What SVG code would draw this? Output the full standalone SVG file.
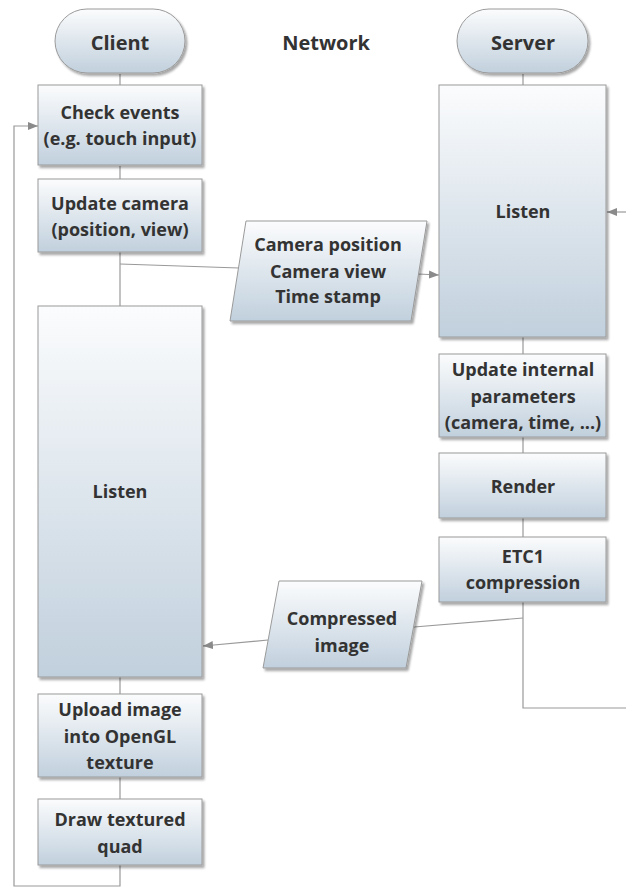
<svg xmlns="http://www.w3.org/2000/svg" width="626" height="888" viewBox="0 0 626 888">
<defs>
<linearGradient id="g" x1="0" y1="0" x2="0" y2="1">
<stop offset="0" stop-color="#fbfcfd"/>
<stop offset="1" stop-color="#c1d0dd"/>
</linearGradient>
<filter id="sh" x="-10%" y="-10%" width="130%" height="130%">
<feDropShadow dx="2" dy="2.5" stdDeviation="1.2" flood-color="#000" flood-opacity="0.35"/>
</filter>
<marker id="ar" viewBox="0 0 10 10" refX="10" refY="5" markerWidth="10" markerHeight="10" markerUnits="userSpaceOnUse" orient="auto">
<path d="M0,1 L10,5 L0,9 z" fill="#8a8a8a"/>
</marker>
<style>
.n{fill:url(#g);stroke:#9a9a9a;stroke-width:1;filter:url(#sh)}
.t{font-family:"Open Sans","Noto Sans",sans-serif;font-weight:bold;font-size:18px;fill:#333;text-anchor:middle}
.h{font-size:20px}
.c{fill:none;stroke:#999;stroke-width:1.2}
.a{marker-end:url(#ar)}
</style>
</defs>
<g id="connectors">
<path class="c" d="M120,74 V85"/>
<path class="c" d="M120,166 V179"/>
<path class="c" d="M120,252 V306"/>
<path class="c" d="M120,264 L239,268"/>
<path class="c a" d="M418,274 L439,275"/>
<path class="c a" d="M626,212 L607,212"/>
<path class="c" d="M523,74 V85"/>
<path class="c" d="M523,337 V354"/>
<path class="c" d="M523,437 V453"/>
<path class="c" d="M523,518 V537"/>
<path class="c" d="M523,602 V708 H626"/>
<path class="c" d="M523,618 L414,627"/>
<path class="c a" d="M268,640 L203,646"/>
<path class="c" d="M120,677 V694"/>
<path class="c" d="M120,777 V799"/>
<path class="c a" d="M120,865 V886 H14 V126 H38"/>
</g>
<g id="client">
<rect class="n" x="55" y="9" width="130" height="64" rx="32"/>
<text class="t h" x="120" y="50">Client</text>
</g>
<g id="network">
<text class="t h" x="326" y="50">Network</text>
</g>
<g id="server">
<rect class="n" x="457" y="9" width="131" height="64" rx="32"/>
<text class="t h" x="523" y="50">Server</text>
</g>
<g id="check-events">
<rect class="n" x="38" y="85" width="164" height="80"/>
<text class="t" x="120" y="119">Check events</text>
<text class="t" x="120" y="145">(e.g. touch input)</text>
</g>
<g id="update-camera">
<rect class="n" x="38" y="179" width="164" height="73"/>
<text class="t" x="120" y="210">Update camera</text>
<text class="t" x="120" y="236">(position, view)</text>
</g>
<g id="camera-data">
<path class="n" d="M246,221 H427 L411,321 H230 Z"/>
<text class="t" x="328" y="251">Camera position</text>
<text class="t" x="328" y="278">Camera view</text>
<text class="t" x="328" y="303">Time stamp</text>
</g>
<g id="server-listen">
<rect class="n" x="439" y="85" width="167" height="252"/>
<text class="t" x="523" y="218">Listen</text>
</g>
<g id="update-internal">
<rect class="n" x="439" y="354" width="167" height="83"/>
<text class="t" x="523" y="376">Update internal</text>
<text class="t" x="523" y="403">parameters</text>
<text class="t" x="523" y="429">(camera, time, ...)</text>
</g>
<g id="render">
<rect class="n" x="439" y="453" width="167" height="65"/>
<text class="t" x="523" y="493">Render</text>
</g>
<g id="etc1">
<rect class="n" x="439" y="537" width="167" height="65"/>
<text class="t" x="523" y="563">ETC1</text>
<text class="t" x="523" y="589">compression</text>
</g>
<g id="compressed-image">
<path class="n" d="M279,581 H422 L406,668 H263 Z"/>
<text class="t" x="342" y="625">Compressed</text>
<text class="t" x="342" y="652">image</text>
</g>
<g id="client-listen">
<rect class="n" x="38" y="306" width="164" height="371"/>
<text class="t" x="120" y="498">Listen</text>
</g>
<g id="upload-image">
<rect class="n" x="38" y="694" width="164" height="83"/>
<text class="t" x="120" y="716">Upload image</text>
<text class="t" x="120" y="743">into OpenGL</text>
<text class="t" x="120" y="769">texture</text>
</g>
<g id="draw-quad">
<rect class="n" x="38" y="799" width="164" height="66"/>
<text class="t" x="120" y="826">Draw textured</text>
<text class="t" x="120" y="853">quad</text>
</g>
</svg>
